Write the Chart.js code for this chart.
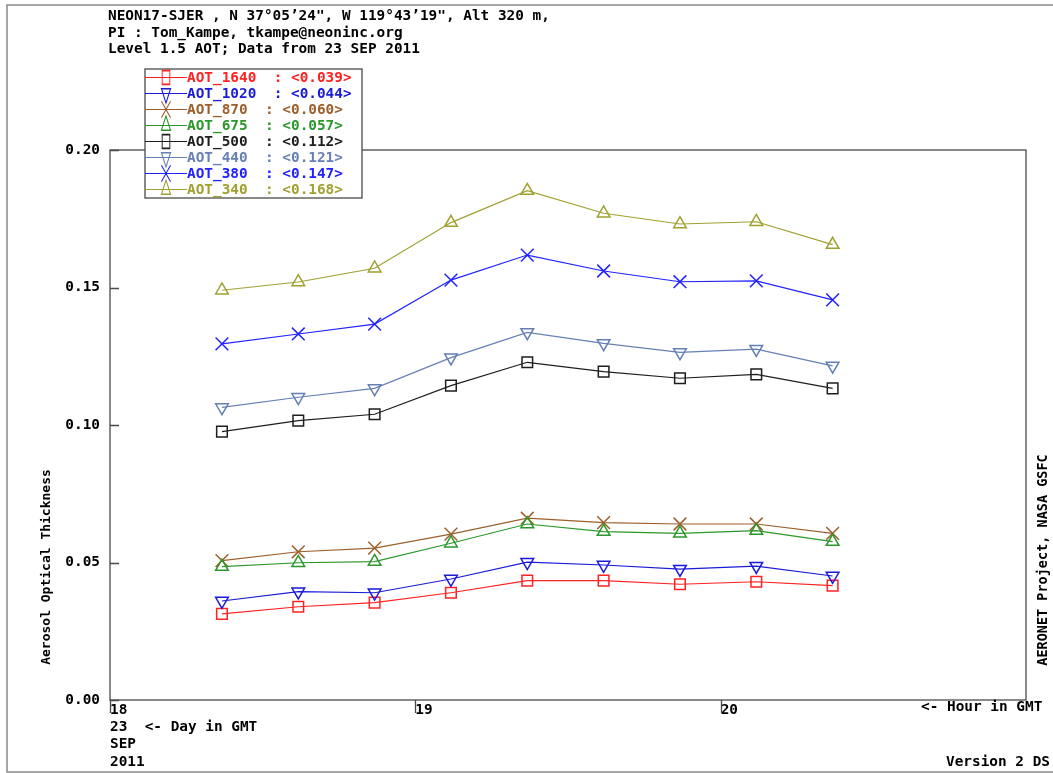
<!DOCTYPE html>
<html>
<head>
<meta charset="utf-8">
<title>NEON17-SJER AOT 23 SEP 2011</title>
<script src="https://cdn.jsdelivr.net/npm/chart.js@4.4.1/dist/chart.umd.min.js"></script>
<style>
  html, body { margin: 0; padding: 0; background: #ffffff; }
  #wrap { width: 1053px; height: 773px; position: relative; }
  canvas { display: block; }
</style>
</head>
<body>
<div id="wrap"><canvas id="aot" width="1053" height="773"></canvas></div>
<script>
// Observation times (GMT, hh:mm) on 23 SEP 2011
const obsTimes = ['18:22', '18:37', '18:52', '19:07', '19:22', '19:37', '19:52', '20:07', '20:22'];

// Aerosol optical thickness per channel
const aot1640 = [0.0313, 0.0339, 0.0354, 0.0390, 0.0434, 0.0434, 0.0421, 0.0430, 0.0416];
const aot1020 = [0.0360, 0.0394, 0.0390, 0.0440, 0.0501, 0.0491, 0.0476, 0.0487, 0.0451];
const aot870  = [0.0507, 0.0539, 0.0552, 0.0603, 0.0661, 0.0645, 0.0640, 0.0640, 0.0606];
const aot675  = [0.0485, 0.0499, 0.0503, 0.0570, 0.0640, 0.0612, 0.0606, 0.0616, 0.0576];
const aot500  = [0.0976, 0.1016, 0.1039, 0.1143, 0.1228, 0.1194, 0.1170, 0.1184, 0.1133];
const aot440  = [0.1064, 0.1101, 0.1133, 0.1245, 0.1337, 0.1297, 0.1264, 0.1276, 0.1215];
const aot380  = [0.1295, 0.1331, 0.1367, 0.1527, 0.1618, 0.1560, 0.1521, 0.1524, 0.1455];
const aot340  = [0.1490, 0.1520, 0.1570, 0.1736, 0.1852, 0.1770, 0.1731, 0.1739, 0.1656];

// Channel names and daily means shown in the key
const channelNames = ['AOT_1640', 'AOT_1020', 'AOT_870', 'AOT_675', 'AOT_500', 'AOT_440', 'AOT_380', 'AOT_340'];
const channelMeans = ['0.039', '0.044', '0.060', '0.057', '0.112', '0.121', '0.147', '0.168'];

// Axis ticks
const hourTicks = [18, 19, 20];
const aotTicks = [0.00, 0.05, 0.10, 0.15, 0.20];

// Header / annotation text
const headerLines = [
  'NEON17-SJER , N 37\u00B005\u201924", W 119\u00B043\u201919", Alt 320 m,',
  'PI : Tom_Kampe, tkampe@neoninc.org',
  'Level 1.5 AOT; Data from 23 SEP 2011'
];
const dateLines = ['23  <- Day in GMT', 'SEP', '2011'];
const yTitle = 'Aerosol Optical Thickness';
const sideCredit = 'AERONET Project, NASA GSFC';
const hourCaption = '<- Hour in GMT';
const versionText = 'Version 2 DS';

const MONO = '"DejaVu Sans Mono", "Liberation Mono", monospace';
const TEXT_FONT = 'bold 14.4px ' + MONO;

// Styling per channel (same order as channelNames)
const channelStyles = [
  { color: '#ff2222', point: 'rect',     rotation: 0,   radius: 7.5 },
  { color: '#1a1ad8', point: 'triangle', rotation: 180, radius: 7.3 },
  { color: '#9c5f2c', point: 'crossRot', rotation: 0,   radius: 9 },
  { color: '#2a982a', point: 'triangle', rotation: 0,   radius: 7.3 },
  { color: '#1e1e1e', point: 'rect',     rotation: 0,   radius: 7.5 },
  { color: '#6680b4', point: 'triangle', rotation: 180, radius: 7.3 },
  { color: '#2222ff', point: 'crossRot', rotation: 0,   radius: 9 },
  { color: '#a0a032', point: 'triangle', rotation: 0,   radius: 7.3 }
];
const channelSeries = [aot1640, aot1020, aot870, aot675, aot500, aot440, aot380, aot340];

function toHours(t) {
  const [h, m] = t.split(':').map(Number);
  return h + m / 60;
}
const hours = obsTimes.map(toHours);

const datasets = channelSeries.map((vals, i) => {
  const s = channelStyles[i];
  return {
    label: channelNames[i],
    data: vals.map((v, k) => ({ x: hours[k], y: v })),
    borderColor: s.color,
    backgroundColor: 'rgba(0,0,0,0)',
    borderWidth: 1.2,
    pointStyle: s.point,
    pointRotation: s.rotation,
    pointRadius: s.radius,
    pointBorderWidth: 1.5,
    pointBorderColor: s.color,
    pointBackgroundColor: 'rgba(0,0,0,0)',
    tension: 0,
    order: channelSeries.length - i
  };
});

// Key symbols are drawn narrow and tall
function drawKeyMarker(ctx, style, x, y) {
  const opts = { pointStyle: style.point, rotation: style.rotation, radius: style.radius, borderWidth: 1.3 };
  ctx.save();
  ctx.translate(x, y);
  ctx.scale(0.72, 1.3);
  ctx.strokeStyle = style.color;
  ctx.fillStyle = 'rgba(0,0,0,0)';
  ctx.lineWidth = 1.3;
  if (Chart.helpers && Chart.helpers.drawPoint) {
    Chart.helpers.drawPoint(ctx, opts, 0, 0);
  }
  ctx.restore();
}

// Frame, box, tick marks, key and annotations
const decorations = {
  id: 'decorations',
  beforeDraw(chart) {
    const ctx = chart.ctx;
    ctx.save();
    ctx.fillStyle = '#ffffff';
    ctx.fillRect(0, 0, chart.width, chart.height);
    ctx.strokeStyle = '#8a8a8a';
    ctx.lineWidth = 1.5;
    ctx.strokeRect(7, 5, chart.width + 10, 767);
    ctx.restore();
  },
  afterDraw(chart) {
    const ctx = chart.ctx;
    const a = chart.chartArea;
    const xs = chart.scales.x, ys = chart.scales.y;
    ctx.save();

    // plot box
    ctx.strokeStyle = '#4a4a4a';
    ctx.lineWidth = 1.3;
    ctx.strokeRect(a.left, a.top, a.right - a.left, a.bottom - a.top);

    // inward ticks on the value axis
    ctx.beginPath();
    aotTicks.forEach(v => {
      const py = Math.round(ys.getPixelForValue(v)) + 0.5;
      ctx.moveTo(a.left, py);
      ctx.lineTo(a.left + 9, py);
    });
    // downward ticks on the hour axis
    hourTicks.forEach(h => {
      const px = Math.round(xs.getPixelForValue(h)) + 0.5;
      ctx.moveTo(px, a.bottom);
      ctx.lineTo(px, a.bottom + 13);
    });
    ctx.stroke();

    // header
    ctx.fillStyle = '#000000';
    ctx.font = TEXT_FONT;
    ctx.textAlign = 'left';
    ctx.textBaseline = 'middle';
    headerLines.forEach((t, i) => ctx.fillText(t, 108, 16 + i * 16.8));

    // date block under the hour axis
    dateLines.forEach((t, i) => ctx.fillText(t, 110, 727 + i * 17.5));
    ctx.fillText(hourCaption, 921, 707);
    ctx.fillText(versionText, 946, 762);

    // vertical titles
    ctx.save();
    ctx.font = 'bold 13px ' + MONO;
    ctx.translate(47, 567);
    ctx.rotate(-Math.PI / 2);
    ctx.textAlign = 'center';
    ctx.fillText(yTitle, 0, 0);
    ctx.restore();

    ctx.save();
    ctx.font = 'bold 13.5px ' + MONO;
    ctx.translate(1043, 560);
    ctx.rotate(-Math.PI / 2);
    ctx.textAlign = 'center';
    ctx.fillText(sideCredit, 0, 0);
    ctx.restore();

    // key
    const kx = 145, ky = 69, kw = 217, kh = 129;
    ctx.fillStyle = '#ffffff';
    ctx.fillRect(kx, ky, kw, kh);
    ctx.strokeStyle = '#4a4a4a';
    ctx.lineWidth = 1.3;
    ctx.strokeRect(kx, ky, kw, kh);
    ctx.font = TEXT_FONT;
    channelNames.forEach((name, i) => {
      const s = channelStyles[i];
      const ry = 77.5 + i * 16;
      ctx.strokeStyle = s.color;
      ctx.lineWidth = 1.2;
      ctx.beginPath();
      ctx.moveTo(kx, ry);
      ctx.lineTo(kx + 42, ry);
      ctx.stroke();
      drawKeyMarker(ctx, s, kx + 21, ry);
      ctx.fillStyle = s.color;
      ctx.textAlign = 'left';
      ctx.textBaseline = 'middle';
      ctx.fillText(name + '  : <' + channelMeans[i] + '>', kx + 42, ry + 0.5);
    });

    ctx.restore();
  }
};

new Chart(document.getElementById('aot'), {
  type: 'line',
  data: { datasets },
  options: {
    responsive: false,
    animation: false,
    devicePixelRatio: 1,
    layout: { padding: { left: 0, top: 150, right: 27, bottom: 0 } },
    plugins: {
      legend: { display: false },
      title: { display: false },
      tooltip: { enabled: false }
    },
    scales: {
      x: {
        type: 'linear',
        min: 18,
        max: 21,
        afterBuildTicks(scale) { scale.ticks = hourTicks.map(v => ({ value: v })); },
        afterFit(scale) { scale.height = 73; },
        grid: { display: false, drawTicks: false },
        border: { display: false },
        ticks: {
          align: 'start',
          padding: 2,
          color: '#000000',
          font: { family: MONO, size: 14.4, weight: 'bold' },
          callback: v => String(v)
        }
      },
      y: {
        type: 'linear',
        min: 0,
        max: 0.2,
        afterBuildTicks(scale) { scale.ticks = aotTicks.map(v => ({ value: v })); },
        afterFit(scale) { scale.width = 110; },
        grid: { display: false, drawTicks: false },
        border: { display: false },
        ticks: {
          padding: 10,
          color: '#000000',
          font: { family: MONO, size: 14.4, weight: 'bold' },
          callback: v => Number(v).toFixed(2)
        }
      }
    }
  },
  plugins: [decorations]
});
</script>
</body>
</html>
